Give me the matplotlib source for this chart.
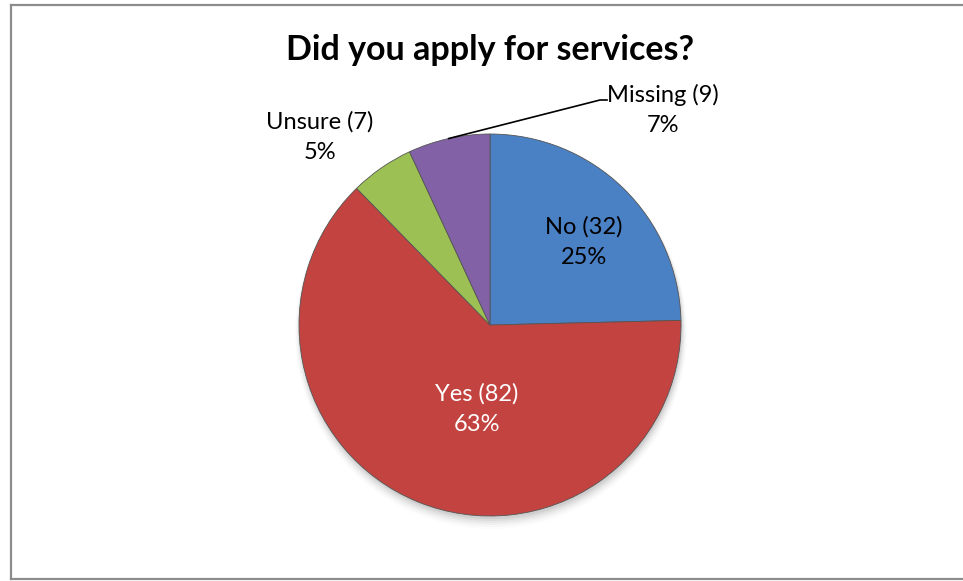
import matplotlib
matplotlib.use("Agg")
import matplotlib.pyplot as plt
from matplotlib.lines import Line2D
import numpy as np

# Survey responses
categories = ["No", "Yes", "Unsure", "Missing"]
counts = [32, 82, 7, 9]
colors = ["#4A80C4", "#C2433F", "#9CC053", "#8261A6"]
text_colors = ["black", "white", "black", "black"]

W, H = 963, 581
plt.rcParams["font.family"] = ["Lato", "DejaVu Sans"]

fig = plt.figure(figsize=(W / 100, H / 100), dpi=100)
ax = fig.add_axes([0, 0, 1, 1])

cx, cy, r = 490, H - 325, 191

# soft drop shadow under the pie
for i, a in enumerate(np.linspace(0.05, 0.01, 6)):
    ax.add_patch(plt.Circle((cx + 1, cy - 3 - i), r + i, color="black", alpha=a, lw=0, zorder=0))

wedges, _ = ax.pie(
    counts,
    colors=colors,
    startangle=90,
    counterclock=False,
    center=(cx, cy),
    radius=r,
    wedgeprops=dict(edgecolor="#555555", linewidth=0.6),
    frame=True,
)
ax.set_xlim(0, W)
ax.set_ylim(0, H)
ax.set_aspect("equal")
ax.axis("off")

total = sum(counts)
labels = [f"{c} ({n})\n{n / total * 100:.0f}%" for c, n in zip(categories, counts)]

# label anchors (pixel positions from the top-left)
label_pos = [(584, 242), (477, 409), (320, 137), (663, 110)]
for lab, (x, y), tc in zip(labels, label_pos, text_colors):
    ax.text(x, H - y, lab, ha="center", va="center", fontsize=17,
            color=tc, linespacing=1.55, zorder=5)

# leader line for the small "Missing" slice
w = wedges[3]
mid = np.deg2rad((w.theta1 + w.theta2) / 2)
px, py = cx + r * np.cos(mid), cy + r * np.sin(mid)
ax.plot([px, 600, 607], [py, H - 100, H - 100], color="black", lw=1.2, zorder=4)

ax.text(490, H - 50, "Did you apply for services?", ha="center", va="center",
        fontsize=24.5, fontweight="bold")

# chart border
border = dict(color="#8c8c8c", lw=1.6, transform=None)
fig.add_artist(Line2D([11, 11], [H - 5, H - 579], **border))
fig.add_artist(Line2D([11, W], [H - 5, H - 5], **border))
fig.add_artist(Line2D([11, W], [H - 579, H - 579], **border))

fig.savefig("out.png", dpi=100)
